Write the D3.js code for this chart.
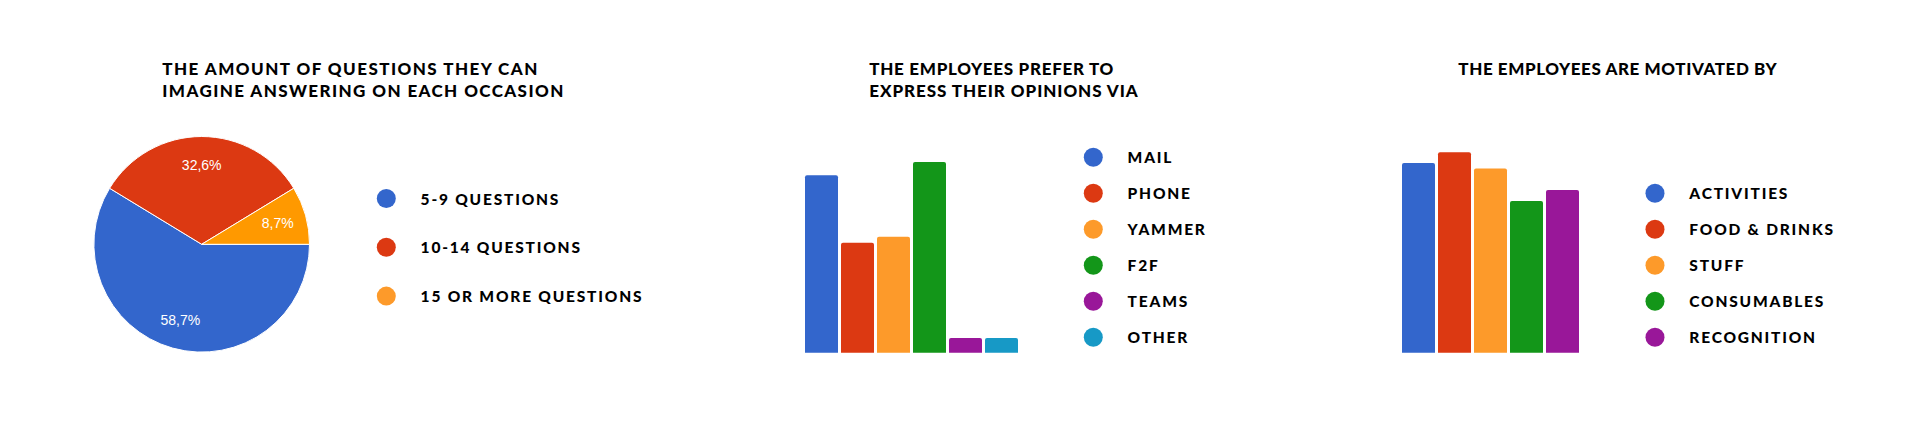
<!DOCTYPE html>
<html>
<head>
<meta charset="utf-8">
<script src="https://cdn.jsdelivr.net/npm/d3@7"></script>
<style>
  body { margin: 0; background: #fff; }
  .title, .legend text { font-family: "Lato", sans-serif; font-weight: 900; fill: #000; }
  .title { font-size: 17px; }
  .legend text { font-size: 15.5px; letter-spacing: 1.8px; }
  .slice-label { font-family: "Liberation Sans", Arial, sans-serif; font-size: 14px; fill: #fff; }
</style>
</head>
<body>
<svg width="1920" height="434"></svg>
<script>

var questionGroups = ["5-9 QUESTIONS", "10-14 QUESTIONS", "15 OR MORE QUESTIONS"];
var questionShares = [58.7, 32.6, 8.7];
var questionLabels = ["58,7%", "32,6%", "8,7%"];

var channels = ["MAIL", "PHONE", "YAMMER", "F2F", "TEAMS", "OTHER"];
var channelValues = [24.2, 15, 15.8, 26, 2, 2];

var motivators = ["ACTIVITIES", "FOOD & DRINKS", "STUFF", "CONSUMABLES", "RECOGNITION"];
var motivatorValues = [35, 37, 34, 28, 30];

var sliceColors = ["#3366cc", "#dc3912", "#ff9900"];
var dotColors = ["#3366cc", "#dc3912", "#fd9a2a", "#139619", "#991799", "#1799c6"];

var svg = d3.select("svg");

// each title line is stretched to the width it has in the original
function title(x, lines, widths) {
    lines.forEach(function (l, i) {
        svg.append("text").attr("class", "title")
            .attr("x", x).attr("y", 74.5 + i * 22.5)
            .attr("textLength", widths[i]).attr("lengthAdjust", "spacing")
            .text(l);
    });
}

function legend(cx, y0, gap, names) {
    var g = svg.append("g").attr("class", "legend");
    names.forEach(function (n, i) {
        g.append("circle").attr("cx", cx).attr("cy", y0 + i * gap).attr("r", 9.5).attr("fill", dotColors[i]);
        g.append("text").attr("x", cx + 34.3).attr("y", y0 + i * gap + 6).text(n);
    });
}

// bar with slightly rounded top corners
function barPath(x, y, w, h) {
    var r = Math.min(2, h / 2);
    return "M" + x + "," + (y + h) + "V" + (y + r) + "Q" + x + "," + y + " " + (x + r) + "," + y +
        "H" + (x + w - r) + "Q" + (x + w) + "," + y + " " + (x + w) + "," + (y + r) + "V" + (y + h) + "Z";
}

function barChart(names, values, xRange, yMax, yHeight) {
    var xScale = d3.scaleBand().domain(names).range(xRange).paddingInner(1 / 12).paddingOuter(1 / 24);
    var yScale = d3.scaleLinear().domain([0, yMax]).range([352.7, 352.7 - yHeight]);
    svg.append("g").selectAll("path").data(names).enter().append("path")
        .attr("d", function (d, i) {
            return barPath(xScale(d), yScale(values[i]), xScale.bandwidth(), yScale(0) - yScale(values[i]));
        })
        .attr("fill", function (d, i) { return dotColors[i] });
}

// pie
title(162.3, ["THE AMOUNT OF QUESTIONS THEY CAN", "IMAGINE ANSWERING ON EACH OCCASION"], [375, 401]);

var pie = d3.pie().sort(null).startAngle(Math.PI / 2).endAngle(Math.PI / 2 + 2 * Math.PI);
var arcs = pie(questionShares);
var arc = d3.arc().innerRadius(0).outerRadius(107.8);
var labelArc = d3.arc().innerRadius(79).outerRadius(79);
var pieG = svg.append("g").attr("transform", "translate(201.7,244.3)");
pieG.selectAll("path").data(arcs).enter().append("path")
    .attr("d", arc)
    .attr("fill", function (d, i) { return sliceColors[i] })
    .attr("stroke", "#fff").attr("stroke-width", 1);
pieG.selectAll("text").data(arcs).enter().append("text")
    .attr("class", "slice-label")
    .attr("transform", function (d) { return "translate(" + labelArc.centroid(d) + ")" })
    .attr("text-anchor", "middle").attr("dy", "0.36em")
    .text(function (d, i) { return questionLabels[i] });

legend(386.3, 198.5, 48.8, questionGroups);

// channels
title(869.3, ["THE EMPLOYEES PREFER TO", "EXPRESS THEIR OPINIONS VIA"], [244, 268.4]);
barChart(channels, channelValues, [803.5, 1019.5], 30, 220);
legend(1093.3, 157.3, 36, channels);

// motivators
title(1458.3, ["THE EMPLOYEES ARE MOTIVATED BY"], [318.4]);
barChart(motivators, motivatorValues, [1400.5, 1580.5], 40, 216.8);
legend(1655, 193.3, 36, motivators);

</script>
</body>
</html>
